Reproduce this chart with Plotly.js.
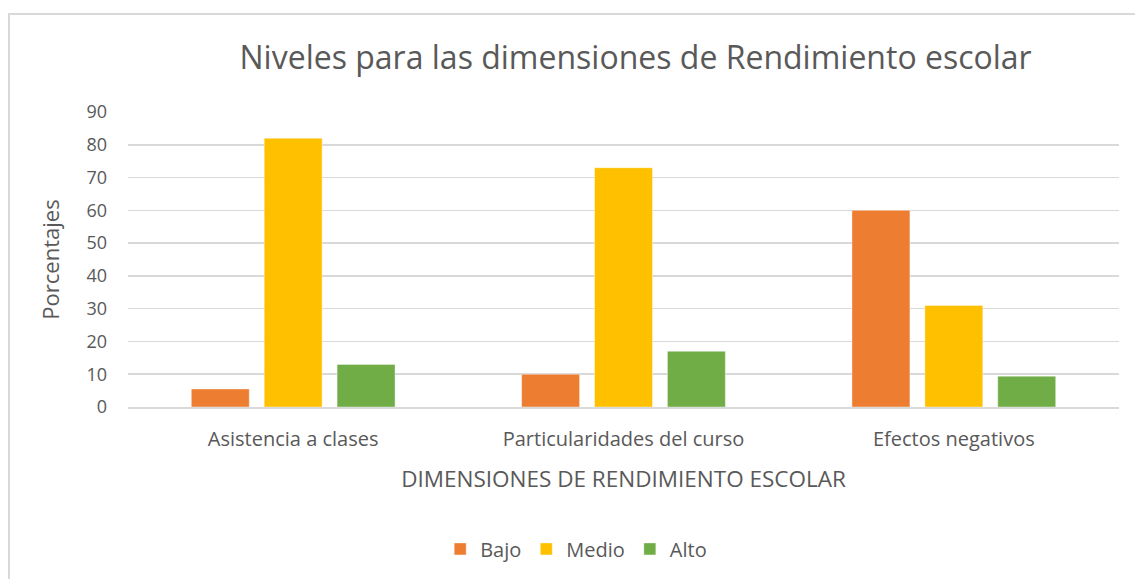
<!DOCTYPE html>
<html><head><meta charset="utf-8">
<script src="https://cdn.plot.ly/plotly-3.0.1.min.js"></script>
<style>body{margin:0;background:#fff;} #frame{position:absolute;left:8px;top:13px;width:1140px;height:600px;border:2px solid #d9d9d9;pointer-events:none;}</style>
</head><body>
<div id="chart" style="width:1135px;height:579px;"></div>
<div id="frame"></div>
<script>
const categories = ["Asistencia a clases", "Particularidades del curso", "Efectos negativos"];
const bajo = [5.5, 10, 60];
const medio = [82, 73, 31];
const alto = [13, 17, 9.4];
const yTicks = [0, 10, 20, 30, 40, 50, 60, 70, 80, 90];

const font = '"Open Sans", sans-serif';
const mk = (name, y, color) => ({type:'bar', name, x:categories, y, marker:{color, line:{color:'rgba(255,255,255,0.4)', width:1}}, hoverinfo:'none'});
const data = [mk('Bajo', bajo, '#ed7d31'), mk('Medio', medio, '#ffc000'), mk('Alto', alto, '#70ad47')];
const layout = {
  width:1135, height:579,
  margin:{l:128, r:16, t:112, b:171},
  paper_bgcolor:'#fff', plot_bgcolor:'#fff',
  font:{family:font, color:'#595959', size:18},
  title:{text:'Niveles para las dimensiones de Rendimiento escolar', font:{size:32, color:'#595959', family:font}, x:0.56, xanchor:'center', y:0.9, yanchor:'middle'},
  barmode:'group', bargap:0.338, bargroupgap:0.205,
  xaxis:{title:{text:'DIMENSIONES DE RENDIMIENTO ESCOLAR', font:{size:22.5}, standoff:20}, showgrid:false, zeroline:false, showline:true, linecolor:'#d9d9d9', linewidth:1.5, ticks:'', ticklabelstandoff:13, tickfont:{size:20}},
  yaxis:{title:{text:'Porcentajes', font:{size:22}, standoff:20}, range:[0,90], tickvals:yTicks, showgrid:true, gridcolor:'#d9d9d9', gridwidth:1.5, zeroline:false, ticks:'', tickfont:{size:18}, ticklabelstandoff:20},
  legend:{orientation:'h', x:0.315, xanchor:'left', y:-0.476, yanchor:'middle', font:{size:20}, itemwidth:20, traceorder:'normal'},
  showlegend:true
};
Plotly.newPlot('chart', data, layout, {staticPlot:true});
</script>
</body></html>
